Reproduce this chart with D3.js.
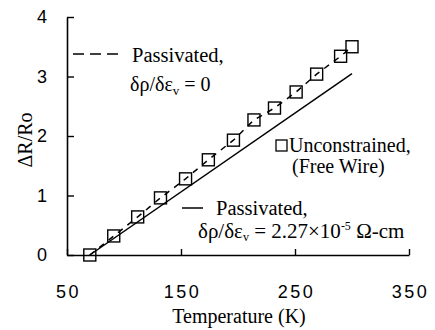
<!DOCTYPE html>
<html>
<head>
<meta charset="utf-8">
<script src="https://cdn.jsdelivr.net/npm/d3@7"></script>
<style>
  html, body { margin: 0; padding: 0; background: #fff; }
  svg { display: block; }
  .tick text { font-family: "Liberation Sans", Arial, sans-serif; font-size: 18px; fill: #000; }
  .serif { font-family: "Liberation Serif", "Times New Roman", serif; fill: #000; }
</style>
</head>
<body>
<div id="chart"></div>
<script>
// unconstrained (free wire) measurements
const temps = [70, 91, 112, 132, 154, 174, 196, 214, 232, 251, 269, 290, 300];
const dR    = [0, 0.32, 0.64, 0.96, 1.28, 1.60, 1.93, 2.27, 2.47, 2.74, 3.04, 3.34, 3.50];
// passivated, drho/deps = 2.27e-5 (solid line)
const solidT = [70, 300];
const solidR = [0, 3.05];
const xTicks = [50, 150, 250, 350];
const yTicks = [0, 1, 2, 3, 4];

const width = 435, height = 330;
const svg = d3.select('#chart').append('svg')
  .attr('width', width)
  .attr('height', height);

const x = d3.scaleLinear().domain([50, 350]).range([67, 409]);
const y = d3.scaleLinear().domain([0, 4]).range([255, 17]);

// axes
const xAxis = svg.append('g')
  .attr('transform', `translate(0,${y(0)})`)
  .call(d3.axisBottom(x).tickValues(xTicks).tickFormat(d3.format('d'))
    .tickSizeInner(-6).tickSizeOuter(0).tickPadding(37));
const yAxis = svg.append('g')
  .attr('transform', `translate(${x(50)},0)`)
  .call(d3.axisLeft(y).tickValues(yTicks).tickFormat(d3.format('d'))
    .tickSizeInner(-7).tickSizeOuter(0).tickPadding(20));
[xAxis, yAxis].forEach(a => {
  a.select('.domain').attr('stroke', '#000').attr('stroke-width', 1.6);
  a.selectAll('.tick line').attr('stroke', '#000').attr('stroke-width', 1.4);
});
xAxis.selectAll('.tick text').attr('dy', '0.32em').attr('letter-spacing', '2.5px').attr('dx', '1px');

const line = d3.line().x(d => x(d[0])).y(d => y(d[1]));

// solid line
svg.append('path')
  .datum(d3.zip(solidT, solidR))
  .attr('d', line)
  .attr('fill', 'none')
  .attr('stroke', '#000')
  .attr('stroke-width', 1.5);

// dashed line through the points
svg.append('path')
  .datum(d3.zip(temps, dR))
  .attr('d', line)
  .attr('fill', 'none')
  .attr('stroke', '#000')
  .attr('stroke-width', 1.5)
  .attr('stroke-dasharray', '6,6');

// squares
const sq = 12;
svg.append('g').selectAll('rect')
  .data(d3.zip(temps, dR))
  .join('rect')
  .attr('x', d => x(d[0]) - sq / 2)
  .attr('y', d => y(d[1]) - sq / 2)
  .attr('width', sq)
  .attr('height', sq)
  .attr('fill', 'none')
  .attr('stroke', '#000')
  .attr('stroke-width', 1.4);

// axis titles
svg.append('text').attr('class', 'serif')
  .attr('x', 239).attr('y', 323)
  .attr('text-anchor', 'middle')
  .attr('font-size', 20)
  .text('Temperature (K)');
svg.append('text').attr('class', 'serif')
  .attr('transform', 'translate(32,140) rotate(-90)')
  .attr('text-anchor', 'middle')
  .attr('font-size', 20)
  .text('ΔR/Ro');

// legend: dashed
svg.append('line')
  .attr('x1', 73).attr('x2', 119).attr('y1', 54).attr('y2', 54)
  .attr('stroke', '#000').attr('stroke-width', 1.5)
  .attr('stroke-dasharray', '11,6');
svg.append('text').attr('class', 'serif')
  .attr('x', 132).attr('y', 62).attr('font-size', 20.5)
  .text('Passivated,');
const t1 = svg.append('text').attr('class', 'serif')
  .attr('x', 130).attr('y', 91).attr('font-size', 20);
t1.append('tspan').text('δρ/δε');
t1.append('tspan').attr('font-size', 13).attr('dy', 4).text('v');
t1.append('tspan').attr('dy', -4).text(' = 0');

// legend: squares
svg.append('rect')
  .attr('x', 276).attr('y', 140).attr('width', 11).attr('height', 11)
  .attr('fill', 'none').attr('stroke', '#000').attr('stroke-width', 1.3);
svg.append('text').attr('class', 'serif')
  .attr('x', 289).attr('y', 152).attr('font-size', 20)
  .text('Unconstrained,');
svg.append('text').attr('class', 'serif')
  .attr('x', 292).attr('y', 173).attr('font-size', 20)
  .text('(Free Wire)');

// legend: solid
svg.append('line')
  .attr('x1', 182).attr('x2', 203).attr('y1', 208).attr('y2', 208)
  .attr('stroke', '#000').attr('stroke-width', 1.5);
svg.append('text').attr('class', 'serif')
  .attr('x', 216).attr('y', 215).attr('font-size', 20.5)
  .text('Passivated,');
const t2 = svg.append('text').attr('class', 'serif')
  .attr('x', 198).attr('y', 238).attr('font-size', 21);
t2.append('tspan').text('δρ/δε');
t2.append('tspan').attr('font-size', 12).attr('dy', 3).text('v');
t2.append('tspan').attr('dy', -3).text(' = 2.27×10');
t2.append('tspan').attr('font-size', 12).attr('dy', -8).text('-5');
t2.append('tspan').attr('dy', 8).text(' Ω-cm');
</script>
</body>
</html>
